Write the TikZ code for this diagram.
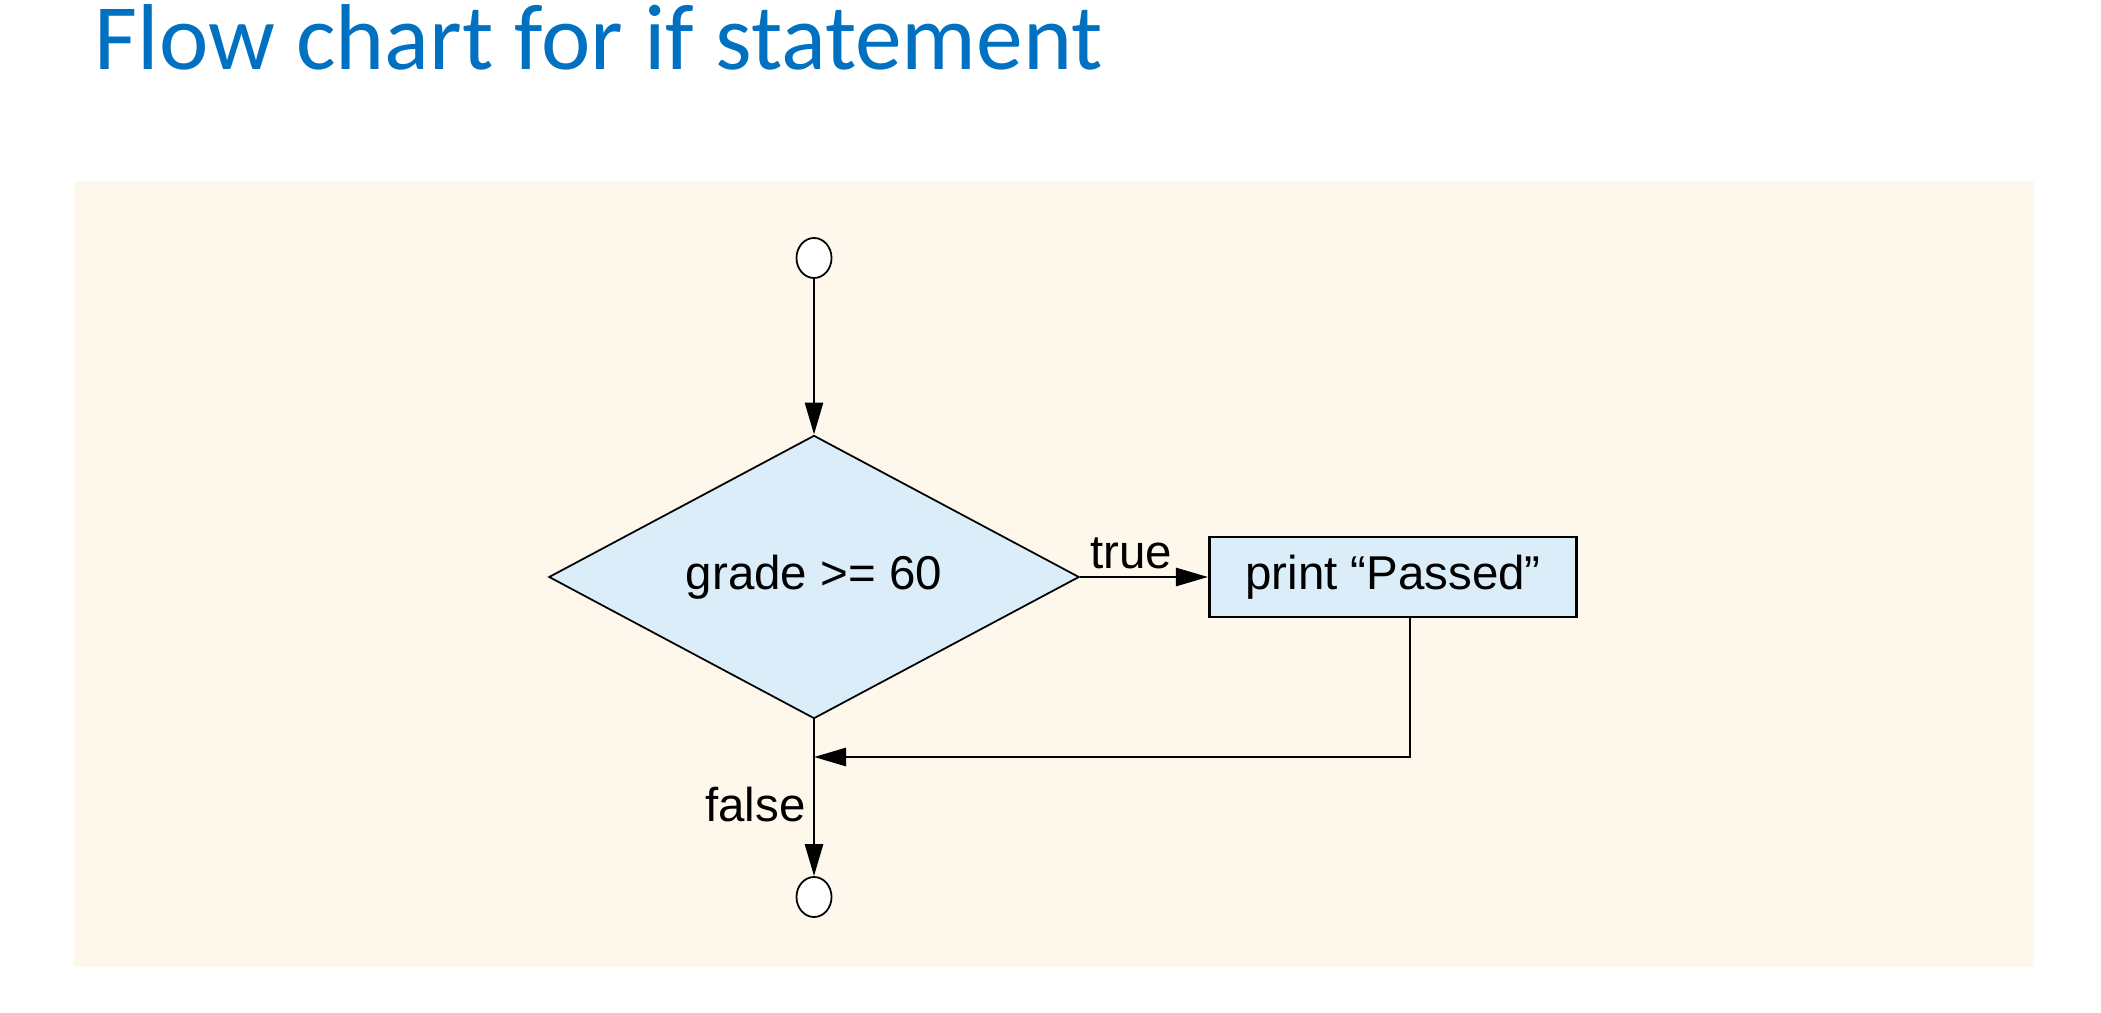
\documentclass[tikz,border=0pt]{standalone}
\usepackage{fontspec}
\setmainfont{Liberation Sans}
\newfontfamily\titlefont{Carlito}
\usetikzlibrary{shapes.geometric,arrows.meta,positioning}
\definecolor{titleblue}{HTML}{0070C0}
\definecolor{cream}{HTML}{FEF8EC}
\definecolor{paleblue}{HTML}{DAEDF8}

\begin{document}
\begin{tikzpicture}[x=0.01cm, y=-0.01cm,
    font=\fontsize{13.5}{16}\selectfont,
    terminal/.style={ellipse, draw, fill=white, line width=0.5pt, minimum width=0.35cm, minimum height=0.4cm, inner sep=0pt},
    decision/.style={diamond, draw, fill=paleblue, line width=0.5pt, aspect=1.87, minimum width=5.3cm, minimum height=2.83cm, inner sep=0pt},
    action/.style={rectangle, draw, fill=paleblue, line width=0.8pt, minimum width=3.67cm, minimum height=0.8cm},
    flow/.style={line width=0.75pt, -{Triangle[length=3.2mm, width=1.8mm]}}]
    \useasboundingbox (0,0) rectangle (2101,1013);
    \fill[cream] (74,181) rectangle (2034,967);
    \node[anchor=base west, inner sep=0pt, text=titleblue, font=\titlefont\fontsize{26.6}{30}\selectfont] (title) at (94,70) {Flow chart for if statement};

    \node[terminal] (start) at (814,258) {};
    \node[decision] (test) at (814,577) {grade >= 60};
    \node[action] (print) at (1393,577) {print “Passed”};
    \node[terminal] (stop) at (814,897) {};
    \coordinate (join) at (814,757);
    \coordinate (corner) at (1410,757);

    \draw[flow] (start) -- (test);
    \draw[flow] (test.east) -- node[pos=0.4, above, inner sep=2pt] {true} (print.west);
    \draw[flow] (test.south) -- node[pos=0.54, left, inner sep=2pt] {false} (stop);
    \draw[flow] (print.south -| corner) -- (corner) -- (join);
\end{tikzpicture}
\end{document}
